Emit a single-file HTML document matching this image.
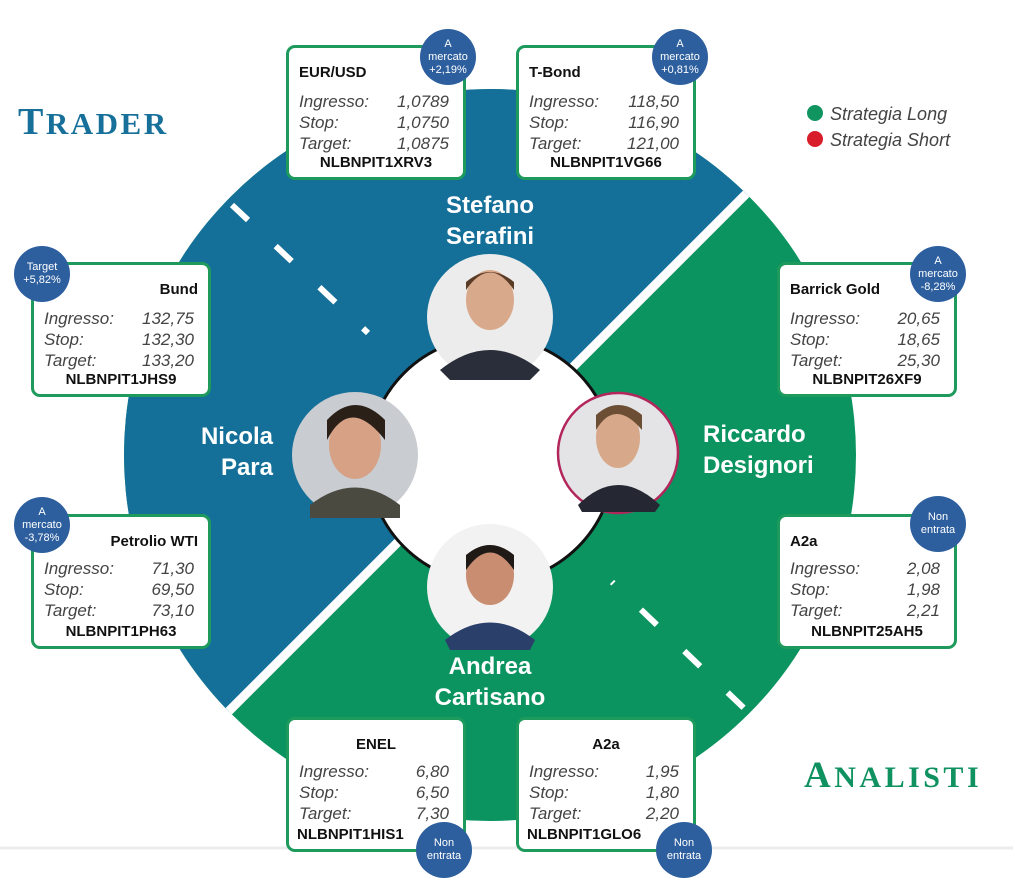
<!DOCTYPE html>
<html><head><meta charset="utf-8"><style>
*{margin:0;padding:0;box-sizing:border-box}
html,body{width:1013px;height:883px;overflow:hidden}
body{background:#fff;position:relative;font-family:"Liberation Sans",sans-serif}
.box{position:absolute;width:180px;height:135px;background:#fff;border:3px solid #1d9a5c;border-radius:9px;color:#111}
.box .t{position:absolute;top:16px;font-weight:bold;font-size:15px}
.box .r{position:absolute;left:10px;right:14px;font-style:italic;font-size:17px;color:#444;font-family:"Liberation Sans",sans-serif}
.box .r span{position:absolute;right:0}
.box .c{position:absolute;left:0;right:0;bottom:6px;text-align:center;font-weight:bold;font-size:15px}
.b{position:absolute;width:56px;height:56px;border-radius:50%;background:#2d5f9e;color:#fff;font-size:11px;line-height:13px;text-align:center;display:flex;align-items:center;justify-content:center}
.name{position:absolute;color:#fff;font-weight:bold;font-size:24px;line-height:31px}
</style></head><body>
<svg width="1013" height="883" style="position:absolute;left:0;top:0">
<defs><clipPath id="cc"><circle cx="490" cy="455" r="366"/></clipPath></defs>
<g clip-path="url(#cc)">
<rect x="0" y="0" width="1013" height="883" fill="#0c9460"/>
<polygon points="0,0 940,0 0,940" fill="#157099"/>
<line x1="940" y1="0" x2="0" y2="940" stroke="#fff" stroke-width="9"/>
</g>
<line x1="232" y1="205" x2="368" y2="333" stroke="#fff" stroke-width="6" stroke-dasharray="22,38"/>
<line x1="612" y1="582" x2="748" y2="712" stroke="#fff" stroke-width="6" stroke-dasharray="22,38" stroke-dashoffset="20"/>
<circle cx="491" cy="460" r="123" fill="#fff" stroke="#111" stroke-width="3"/>
<g>
<circle cx="490" cy="317" r="63" fill="#ececec"/>
<path d="M440 370 Q490 330 540 370 L530 380 L450 380Z" fill="#2a2d3a"/>
<ellipse cx="490" cy="300" rx="24" ry="30" fill="#d9a98c"/>
<path d="M466 290 Q490 255 514 290 L514 282 Q490 262 466 282Z" fill="#5a3b25"/>
</g>
<g>
<circle cx="355" cy="455" r="63" fill="#c9ccd0"/>
<ellipse cx="355" cy="445" rx="26" ry="34" fill="#d6a184"/>
<path d="M327 440 Q350 395 385 440 L385 420 Q355 390 327 420Z" fill="#2a2018"/>
<path d="M310 505 Q355 470 400 505 L400 518 L310 518Z" fill="#4b4a40"/>
</g>
<g>
<circle cx="618" cy="453" r="60" fill="#e4e4e6" stroke="#b3265c" stroke-width="2.5"/>
<ellipse cx="618" cy="438" rx="22" ry="30" fill="#d8a88a"/>
<path d="M596 430 Q615 398 642 430 L642 415 Q618 395 596 415Z" fill="#6b4e33"/>
<path d="M578 505 Q618 465 660 505 L655 512 L582 512Z" fill="#252733"/>
</g>
<g>
<circle cx="490" cy="587" r="63" fill="#f2f2f2"/>
<ellipse cx="490" cy="575" rx="24" ry="30" fill="#c98e72"/>
<path d="M466 570 Q490 535 514 570 L514 555 Q490 535 466 555Z" fill="#1f1a16"/>
<path d="M445 640 Q490 605 535 640 L530 650 L450 650Z" fill="#2b3f6b"/>
</g>
<line x1="0" y1="848" x2="1013" y2="848" stroke="#ececee" stroke-width="3"/>
<circle cx="815" cy="113" r="8" fill="#119560"/>
<circle cx="815" cy="139" r="8" fill="#d81e2a"/>
</svg>
<div style="position:absolute;left:18px;top:100px;font-family:'Liberation Serif',serif;font-weight:bold;color:#17709a;font-size:38px;letter-spacing:2.5px">T<span style="font-size:31px">RADER</span></div>
<div style="position:absolute;left:804px;top:754px;font-family:'Liberation Serif',serif;font-weight:bold;color:#0f9160;font-size:37px;letter-spacing:3.5px">A<span style="font-size:30px">NALISTI</span></div>
<div style="position:absolute;left:830px;top:101px;font-style:italic;color:#444;font-size:18px;line-height:26px">Strategia Long<br>Strategia Short</div>

<div class="name" style="left:390px;top:190px;width:200px;text-align:center">Stefano<br>Serafini</div>
<div class="name" style="left:140px;top:421px;width:133px;text-align:right">Nicola<br>Para</div>
<div class="name" style="left:703px;top:419px">Riccardo<br>Designori</div>
<div class="name" style="left:390px;top:651px;width:200px;text-align:center">Andrea<br>Cartisano</div>

<div class="box" style="left:286px;top:45px"><div class="t" style="left:10px">EUR/USD</div>
<div class="r" style="top:44px">Ingresso:<span>1,0789</span></div><div class="r" style="top:65px">Stop:<span>1,0750</span></div><div class="r" style="top:86px">Target:<span>1,0875</span></div><div class="c">NLBNPIT1XRV3</div></div>
<div class="box" style="left:516px;top:45px"><div class="t" style="left:10px">T-Bond</div>
<div class="r" style="top:44px">Ingresso:<span>118,50</span></div><div class="r" style="top:65px">Stop:<span>116,90</span></div><div class="r" style="top:86px">Target:<span>121,00</span></div><div class="c">NLBNPIT1VG66</div></div>
<div class="box" style="left:31px;top:262px"><div class="t" style="right:10px">Bund</div>
<div class="r" style="top:44px">Ingresso:<span>132,75</span></div><div class="r" style="top:65px">Stop:<span>132,30</span></div><div class="r" style="top:86px">Target:<span>133,20</span></div><div class="c">NLBNPIT1JHS9</div></div>
<div class="box" style="left:31px;top:514px"><div class="t" style="right:10px">Petrolio WTI</div>
<div class="r" style="top:42px">Ingresso:<span>71,30</span></div><div class="r" style="top:63px">Stop:<span>69,50</span></div><div class="r" style="top:84px">Target:<span>73,10</span></div><div class="c">NLBNPIT1PH63</div></div>
<div class="box" style="left:777px;top:262px"><div class="t" style="left:10px">Barrick Gold</div>
<div class="r" style="top:44px">Ingresso:<span>20,65</span></div><div class="r" style="top:65px">Stop:<span>18,65</span></div><div class="r" style="top:86px">Target:<span>25,30</span></div><div class="c">NLBNPIT26XF9</div></div>
<div class="box" style="left:777px;top:514px"><div class="t" style="left:10px">A2a</div>
<div class="r" style="top:42px">Ingresso:<span>2,08</span></div><div class="r" style="top:63px">Stop:<span>1,98</span></div><div class="r" style="top:84px">Target:<span>2,21</span></div><div class="c">NLBNPIT25AH5</div></div>
<div class="box" style="left:286px;top:717px"><div class="t" style="left:0;right:0;text-align:center">ENEL</div>
<div class="r" style="top:42px">Ingresso:<span>6,80</span></div><div class="r" style="top:63px">Stop:<span>6,50</span></div><div class="r" style="top:84px">Target:<span>7,30</span></div><div class="c" style="text-align:left;left:8px">NLBNPIT1HIS1</div></div>
<div class="box" style="left:516px;top:717px"><div class="t" style="left:0;right:0;text-align:center">A2a</div>
<div class="r" style="top:42px">Ingresso:<span>1,95</span></div><div class="r" style="top:63px">Stop:<span>1,80</span></div><div class="r" style="top:84px">Target:<span>2,20</span></div><div class="c" style="text-align:left;left:8px">NLBNPIT1GLO6</div></div>

<div class="b" style="left:420px;top:29px">A<br>mercato<br>+2,19%</div>
<div class="b" style="left:652px;top:29px">A<br>mercato<br>+0,81%</div>
<div class="b" style="left:14px;top:246px">Target<br>+5,82%</div>
<div class="b" style="left:14px;top:497px">A<br>mercato<br>-3,78%</div>
<div class="b" style="left:910px;top:246px">A<br>mercato<br>-8,28%</div>
<div class="b" style="left:910px;top:496px">Non<br>entrata</div>
<div class="b" style="left:416px;top:822px">Non<br>entrata</div>
<div class="b" style="left:656px;top:822px">Non<br>entrata</div>
</body></html>
